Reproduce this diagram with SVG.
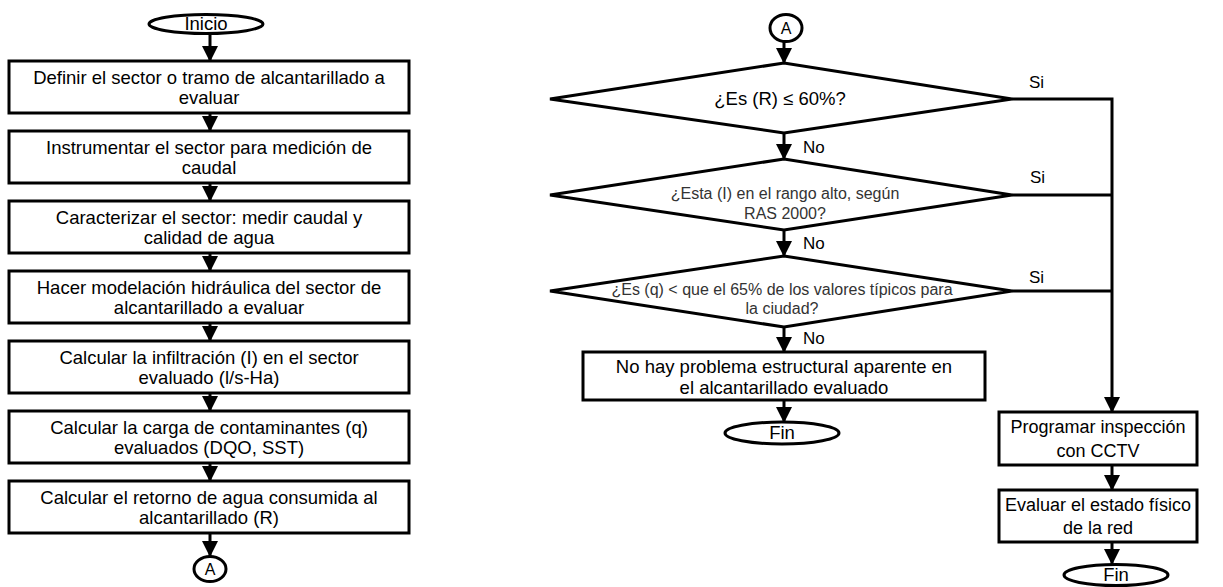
<svg xmlns="http://www.w3.org/2000/svg" width="1223" height="587" viewBox="0 0 1223 587">
<defs>
<marker id="ah" markerUnits="userSpaceOnUse" markerWidth="16" markerHeight="16" refX="15" refY="8" orient="auto">
<path d="M0,0 L16,8 L0,16 z" fill="#000"/>
</marker>
<style>
.box{fill:#fff;stroke:#000;stroke-width:3}
.t{font-family:"Liberation Sans",Arial,sans-serif;font-size:18.5px;fill:#000;text-anchor:middle}
.ts{font-family:"Liberation Sans",Arial,sans-serif;font-size:16px;fill:#333;text-anchor:middle}
.lab{font-family:"Liberation Sans",Arial,sans-serif;font-size:17px;fill:#000}
.c{fill:none;stroke:#000;stroke-width:3}
.ca{fill:none;stroke:#000;stroke-width:3;marker-end:url(#ah)}
</style>
</defs>
<rect width="1223" height="587" fill="#fff"/>

<g id="connectors">
<line class="ca" x1="210" y1="33" x2="210" y2="61"/>
<line class="ca" x1="210" y1="113" x2="210" y2="131"/>
<line class="ca" x1="210" y1="183" x2="210" y2="201"/>
<line class="ca" x1="210" y1="253" x2="210" y2="271"/>
<line class="ca" x1="210" y1="323" x2="210" y2="341"/>
<line class="ca" x1="210" y1="393" x2="210" y2="411"/>
<line class="ca" x1="210" y1="463" x2="210" y2="481"/>
<line class="ca" x1="210" y1="533" x2="210" y2="556"/>

<line class="ca" x1="784" y1="42" x2="784" y2="63"/>
<line class="ca" x1="784" y1="133" x2="784" y2="159"/>
<line class="ca" x1="784" y1="230" x2="784" y2="256"/>
<line class="ca" x1="784" y1="327" x2="784" y2="352"/>
<line class="ca" x1="784" y1="400" x2="784" y2="422"/>

<polyline class="ca" points="1012,99 1112,99 1112,412"/>
<line class="c" x1="1012" y1="195" x2="1112" y2="195"/>
<line class="c" x1="1012" y1="291" x2="1112" y2="291"/>
<line class="ca" x1="1112" y1="465" x2="1112" y2="490"/>
<line class="ca" x1="1112" y1="542" x2="1112" y2="564"/>

<text class="lab" x="803" y="153">No</text>
<text class="lab" x="803" y="249">No</text>
<text class="lab" x="803" y="344">No</text>
<text class="lab" x="1029" y="88">Si</text>
<text class="lab" x="1030" y="183">Si</text>
<text class="lab" x="1029" y="283">Si</text>
</g>

<g id="inicio">
<ellipse class="box" cx="206" cy="24" rx="57" ry="9.5"/>
<text class="t" x="206" y="30">Inicio</text>
</g>
<g id="n1">
<rect class="box" x="9" y="61" width="400" height="52"/>
<text class="t" x="209" y="84">Definir el sector o tramo de alcantarillado a</text>
<text class="t" x="209" y="104">evaluar</text>
</g>
<g id="n2">
<rect class="box" x="9" y="131" width="400" height="52"/>
<text class="t" x="209" y="154">Instrumentar el sector para medición de</text>
<text class="t" x="209" y="174">caudal</text>
</g>
<g id="n3">
<rect class="box" x="9" y="201" width="400" height="52"/>
<text class="t" x="209" y="224">Caracterizar el sector: medir caudal y</text>
<text class="t" x="209" y="244">calidad de agua</text>
</g>
<g id="n4">
<rect class="box" x="9" y="271" width="400" height="52"/>
<text class="t" x="209" y="294">Hacer modelación hidráulica del sector de</text>
<text class="t" x="209" y="314">alcantarillado a evaluar</text>
</g>
<g id="n5">
<rect class="box" x="9" y="341" width="400" height="52"/>
<text class="t" x="209" y="364">Calcular la infiltración (I) en el sector</text>
<text class="t" x="209" y="384">evaluado (l/s-Ha)</text>
</g>
<g id="n6">
<rect class="box" x="9" y="411" width="400" height="52"/>
<text class="t" x="209" y="434">Calcular la carga de contaminantes (q)</text>
<text class="t" x="209" y="454">evaluados (DQO, SST)</text>
</g>
<g id="n7">
<rect class="box" x="9" y="481" width="400" height="52"/>
<text class="t" x="209" y="504">Calcular el retorno de agua consumida al</text>
<text class="t" x="209" y="524">alcantarillado (R)</text>
</g>
<g id="a_out">
<ellipse class="box" cx="210" cy="569" rx="16" ry="12.5"/>
<text class="t" x="210" y="575" style="font-size:16px">A</text>
</g>

<g id="a_in">
<ellipse class="box" cx="786" cy="28" rx="16" ry="13.5"/>
<text class="t" x="786" y="34" style="font-size:16px">A</text>
</g>
<g id="d1">
<polygon class="box" points="550,99 784,63 1012,99 784,133"/>
<text class="t" x="780" y="105">¿Es (R) ≤ 60%?</text>
</g>
<g id="d2">
<polygon class="box" points="550,195 784,159 1012,195 784,230"/>
<text class="ts" x="785" y="199">¿Esta (I) en el rango alto, según</text>
<text class="ts" x="785" y="219">RAS 2000?</text>
</g>
<g id="d3">
<polygon class="box" points="550,291 784,256 1012,291 784,327"/>
<text class="ts" x="782" y="295">¿Es (q) &lt; que el 65% de los valores típicos para</text>
<text class="ts" x="782" y="314">la ciudad?</text>
</g>
<g id="noprob">
<rect class="box" x="583" y="352" width="402" height="48"/>
<text class="t" x="784" y="373">No hay problema estructural aparente en</text>
<text class="t" x="784" y="394">el alcantarillado evaluado</text>
</g>
<g id="fin1">
<ellipse class="box" cx="782" cy="433" rx="57" ry="11"/>
<text class="t" x="782" y="439">Fin</text>
</g>
<g id="cctv">
<rect class="box" x="999" y="412" width="198" height="53"/>
<text class="t" x="1098" y="433" style="font-size:18px">Programar inspección</text>
<text class="t" x="1098" y="457" style="font-size:18px">con CCTV</text>
</g>
<g id="evaluar">
<rect class="box" x="999" y="490" width="198" height="52"/>
<text class="t" x="1098" y="511" style="font-size:18px">Evaluar el estado físico</text>
<text class="t" x="1098" y="534" style="font-size:18px">de la red</text>
</g>
<g id="fin2">
<ellipse class="box" cx="1116" cy="575" rx="52" ry="10.5"/>
<text class="t" x="1116" y="581">Fin</text>
</g>
</svg>
